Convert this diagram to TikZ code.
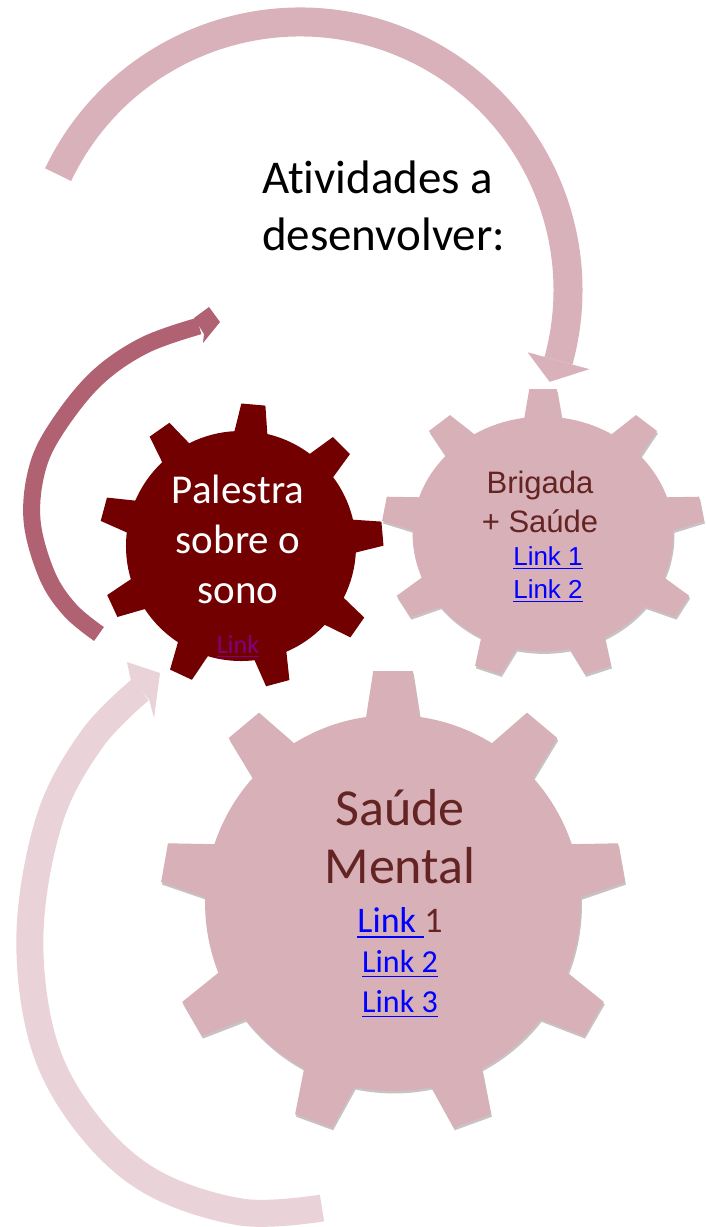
\documentclass[tikz,border=0pt]{standalone}
\usepackage{fontspec}
\setmainfont{Carlito}[Ligatures=NoCommon]
\newfontfamily\arialf{Liberation Sans}
\newcommand\ulink[1]{\setbox0\hbox{#1}\rlap{\rule[-0.17em]{\wd0}{0.06em}}\box0}
\definecolor{gearpink}{RGB}{216,176,184}
\definecolor{arcpink}{RGB}{217,177,186}
\definecolor{arcmauve}{RGB}{176,98,115}
\definecolor{arclight}{RGB}{233,210,216}
\definecolor{geardark}{RGB}{114,0,0}
\definecolor{textbrown}{RGB}{99,36,35}
\definecolor{linkpurple}{RGB}{128,0,128}
\definecolor{linkblue}{RGB}{0,0,255}
\definecolor{shadowc}{RGB}{200,194,196}
\newcommand\gearshape[2]{%
  \foreach \k in {0,...,8}{%
    \fill ({-90+40*\k+#2-10.68}:{0.7123*#1}) -- ({-90+40*\k+#2-4.86}:{1.0036*#1})
       -- ({-90+40*\k+#2+4.86}:{1.0036*#1}) -- ({-90+40*\k+#2+10.68}:{0.7123*#1}) -- cycle;
  }%
  \fill (0,0) circle[radius={0.81*#1}];
}
\tikzset{
  lbl/.style={inner sep=0pt, outer sep=0pt, anchor=base, align=center},
  arcA/.style={draw=arcpink, line width=29},
  arcB/.style={draw=arcmauve, line width=17},
  arcC/.style={draw=arclight, line width=27},
}
\begin{document}
\begin{tikzpicture}[x=1pt,y=-1pt]
\useasboundingbox (0,0) rectangle (705,1227);
\fill[white] (0,0) rectangle (705,1227);

% --- circular arrows ---
\coordinate (topc) at (300,290);
\draw[arcA] (topc) ++(205.5:268) arc[start angle=205.5, end angle=375.3, radius=268];
\fill[arcpink] ([shift={(375.3:236)}]topc) -- ([shift={(380.2:266)}]topc) -- ([shift={(375.3:300)}]topc) -- cycle;

\coordinate (mauvestart) at (99,634);
\coordinate (mauveend) at (199,326);
\draw[arcB] plot[smooth, tension=0.6] coordinates {(mauvestart) (70,610) (47,575) (32,520) (38,466) (60,423) (98,377) (145,345) (mauveend)};
\fill[arcmauve] (194,318) -- (209,307) -- (220,322) -- (203,343) -- (204,334) -- cycle;

\coordinate (lightstart) at (322,1208);
\coordinate (lightend) at (140,690);
\draw[arcC] plot[smooth, tension=0.6] coordinates {(lightstart) (241,1212) (150,1181) (85,1121) (43,1041) (30,932) (50,818) (92,739) (lightend)};
\fill[arclight] (131,681) -- (127,662) -- (160,673) -- (154,718) -- (149,699) -- cycle;

% --- shadows ---
\begin{scope}[shift={(544,536.5)}, yscale=0.9, fill=shadowc]
  \gearshape{161}{0}
\end{scope}
\begin{scope}[shift={(394,905.5)}, fill=shadowc]
  \gearshape{232}{0}
\end{scope}

% --- gears ---
\begin{scope}[shift={(241,546)}, fill=geardark]
  \gearshape{142}{5}
\end{scope}
\begin{scope}[shift={(543,534)}, yscale=0.9, fill=gearpink]
  \gearshape{161}{0}
\end{scope}
\begin{scope}[shift={(393,903)}, fill=gearpink]
  \gearshape{232}{0}
\end{scope}

% --- texts (base anchor = last line's baseline) ---
\node[lbl, anchor=base west, align=left, font=\fontsize{47}{57}\selectfont] (atividades) at (262,250) {Atividades a\\desenvolver:};
\node[lbl, text=white, font=\fontsize{41}{50}\selectfont] (palestra) at (238,603) {Palestra\\sobre o\\sono};
\node[lbl, text=linkpurple, font=\fontsize{26}{30}\selectfont] (palestralink) at (238,653) {\ulink{Link}};
\node[lbl, text=textbrown, font=\arialf\fontsize{31}{39}\selectfont] (brigada) at (540,532) {Brigada\\+ Saúde};
\node[lbl, text=linkblue, font=\arialf\fontsize{26}{33}\selectfont] (brigadalinks) at (548,598) {\ulink{Link 1}\\\ulink{Link 2}};
\node[lbl, text=textbrown, font=\fontsize{52}{58}\selectfont] (saude) at (400,883) {Saúde\\Mental};
\node[lbl, text=linkblue, font=\fontsize{32}{40}\selectfont] (saudelinks) at (400,1012) {{\fontsize{36}{40}\selectfont\ulink{Link }\textcolor{textbrown}{1}}\\\ulink{Link 2}\\\ulink{Link 3}};
\end{tikzpicture}
\end{document}
